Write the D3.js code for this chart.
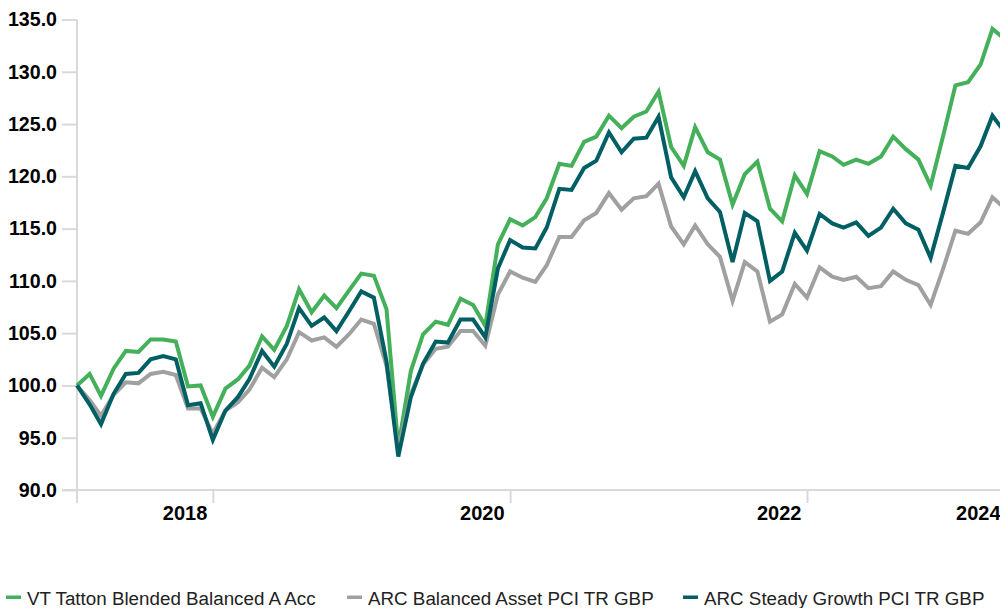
<!DOCTYPE html>
<html lang="en">
<head>
<meta charset="utf-8">
<title>Fund performance</title>
<script src="https://d3js.org/d3.v7.min.js"></script>
<style>
  body { margin: 0; background: #fff; }
  svg { display: block; font-family: "Liberation Sans", Arial, sans-serif; }
</style>
</head>
<body>
<div id="chart"></div>
<script>
// month-start dates, Jan 2018 .. Apr 2024
var months = d3.timeMonth.range(new Date(2018, 0, 1), new Date(2024, 4, 1));

var tatton = [100.0, 101.1, 99.0, 101.6, 103.3, 103.2, 104.4, 104.4, 104.2, 99.9, 100.0, 97.0,
  99.7, 100.6, 101.9, 104.7, 103.4, 105.7, 109.2, 107.0, 108.6, 107.4, 109.1, 110.7,
  110.5, 107.3, 94.1, 101.4, 104.9, 106.1, 105.8, 108.3, 107.7, 105.7, 113.5, 115.9,
  115.3, 116.1, 117.9, 121.2, 121.0, 123.3, 123.8, 125.8, 124.6, 125.7, 126.2, 128.1,
  122.8, 121.0, 124.7, 122.3, 121.6, 117.3, 120.2, 121.4, 116.9, 115.7, 120.1, 118.3,
  122.4, 121.9, 121.1, 121.6, 121.2, 121.9, 123.8, 122.6, 121.6, 119.1, 123.9, 128.7,
  129.0, 130.7, 134.1, 133.1];

var balanced = [100.0, 98.6, 97.1, 99.1, 100.3, 100.2, 101.1, 101.3, 101.0, 97.8, 97.8, 95.4,
  97.6, 98.4, 99.6, 101.7, 100.8, 102.5, 105.1, 104.3, 104.6, 103.7, 104.9, 106.3,
  105.9, 101.9, 93.8, 99.2, 102.0, 103.5, 103.7, 105.2, 105.2, 103.8, 108.7, 110.9,
  110.3, 109.9, 111.5, 114.2, 114.2, 115.8, 116.5, 118.4, 116.8, 117.9, 118.1, 119.3,
  115.2, 113.5, 115.3, 113.5, 112.3, 108.1, 111.8, 110.9, 106.1, 106.8, 109.7, 108.4,
  111.3, 110.4, 110.1, 110.4, 109.3, 109.5, 110.9, 110.1, 109.6, 107.7, 111.2, 114.8,
  114.5, 115.6, 118.0, 116.9];

var steady = [100.0, 98.2, 96.3, 99.2, 101.1, 101.2, 102.5, 102.8, 102.5, 98.1, 98.3, 94.8,
  97.6, 98.9, 100.6, 103.3, 101.8, 104.0, 107.4, 105.7, 106.5, 105.2, 107.1, 109.0,
  108.4, 102.3, 93.2, 98.9, 102.1, 104.2, 104.1, 106.3, 106.3, 104.6, 111.2, 113.9,
  113.2, 113.1, 115.1, 118.8, 118.7, 120.8, 121.5, 124.2, 122.3, 123.6, 123.7, 125.7,
  119.9, 118.0, 120.5, 117.9, 116.6, 111.8, 116.5, 115.7, 110.0, 110.9, 114.6, 112.9,
  116.4, 115.5, 115.1, 115.6, 114.3, 115.1, 116.9, 115.5, 114.9, 112.2, 116.6, 121.0,
  120.8, 122.9, 125.8, 124.2];

var seriesNames = ["VT Tatton Blended Balanced A Acc", "ARC Balanced Asset PCI TR GBP", "ARC Steady Growth PCI TR GBP"];
var seriesColors = ["#44b05a", "#a0a0a0", "#005f63"];

var yTicks = [90, 95, 100, 105, 110, 115, 120, 125, 130, 135];
var xTickYears = [2018, 2020, 2022, 2024];

var width = 1000, height = 608;

var svg = d3.select("#chart").append("svg")
    .attr("width", width)
    .attr("height", height);

var x = d3.scaleTime()
    .domain([months[0], months[months.length - 1]])
    .range([77, 77 + 75 * 12.374]);

var y = d3.scaleLinear()
    .domain([90, 135])
    .range([490, 19.5]);

// x axis
var xAxis = svg.append("g")
    .attr("transform", "translate(0,490)")
    .call(d3.axisBottom(x)
      .tickValues(xTickYears.map(function(yr) { return new Date(yr, 11, 1); }))
      .tickSize(13)
      .tickFormat(d3.timeFormat("%Y")));
xAxis.select(".domain").remove();
xAxis.selectAll(".tick line").attr("stroke", "#d9d9d9").attr("stroke-width", 2);
xAxis.selectAll(".tick text")
    .attr("fill", "#000")
    .attr("font-family", "Liberation Sans, Arial, sans-serif")
    .attr("font-size", 20)
    .attr("font-weight", "bold")
    .attr("text-anchor", "end")
    .attr("y", 30)
    .attr("dy", 0)
    .attr("x", function(d) {
      var px = x(d);
      return px - 6 > width ? width - px : -6;
    });

svg.append("line")
    .attr("x1", 62).attr("x2", width)
    .attr("y1", 490).attr("y2", 490)
    .attr("stroke", "#d9d9d9").attr("stroke-width", 2);

// y axis
var yAxis = svg.append("g")
    .attr("transform", "translate(77,0)")
    .call(d3.axisLeft(y)
      .tickValues(yTicks)
      .tickSize(15)
      .tickPadding(5)
      .tickFormat(d3.format(".1f")));
yAxis.select(".domain").remove();
yAxis.selectAll(".tick line").attr("stroke", "#d9d9d9").attr("stroke-width", 2);
yAxis.selectAll(".tick text")
    .attr("fill", "#000")
    .attr("font-family", "Liberation Sans, Arial, sans-serif")
    .attr("font-size", 19.6)
    .attr("font-weight", "bold");

svg.append("line")
    .attr("x1", 77).attr("x2", 77)
    .attr("y1", 19.5).attr("y2", 503)
    .attr("stroke", "#d9d9d9").attr("stroke-width", 2);

// lines
var line = d3.line()
    .x(function(d, i) { return x(months[i]); })
    .y(function(d) { return y(d); });

[tatton, balanced, steady].forEach(function(s, k) {
  svg.append("path")
      .datum(s)
      .attr("fill", "none")
      .attr("stroke", seriesColors[k])
      .attr("stroke-width", 4)
      .attr("d", line);
});

// legend
var legendX = [6, 347, 683];
var legend = svg.append("g");
seriesNames.forEach(function(name, k) {
  legend.append("rect")
      .attr("x", legendX[k]).attr("y", 595.5)
      .attr("width", 15).attr("height", 3.5)
      .attr("fill", seriesColors[k]);
  legend.append("text")
      .attr("x", legendX[k] + 21)
      .attr("y", 605)
      .attr("font-size", 18.8)
      .attr("fill", "#222")
      .text(name);
});
</script>
</body>
</html>
